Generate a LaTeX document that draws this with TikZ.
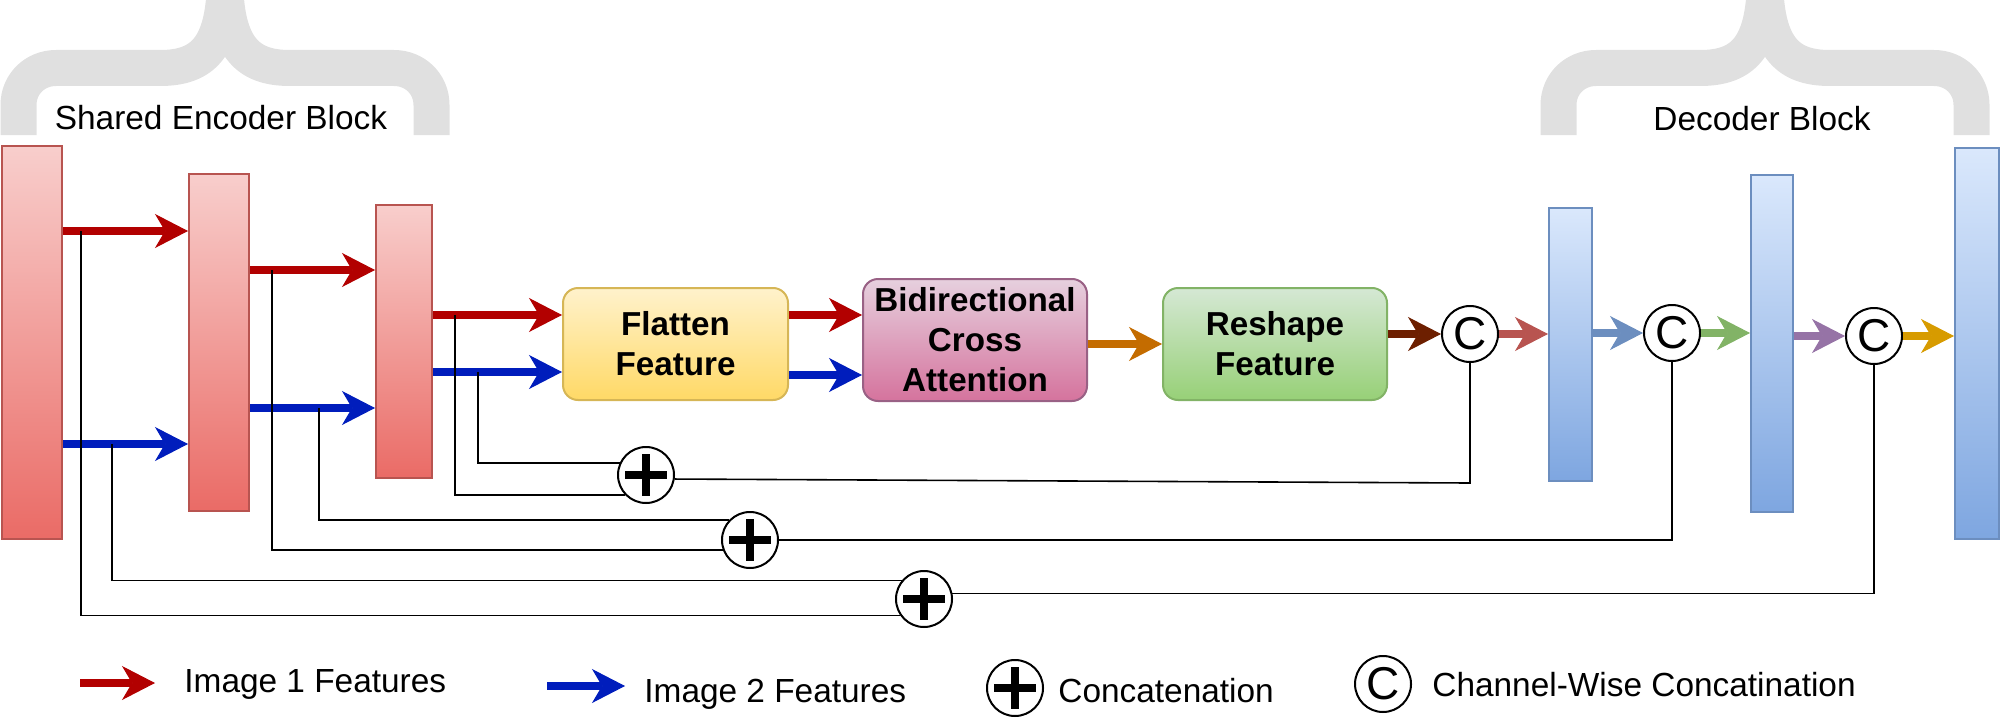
\documentclass[tikz,border=0pt]{standalone}
\usepackage{fontspec}
\setmainfont{Liberation Sans}
\usetikzlibrary{arrows.meta}
\definecolor{encT}{HTML}{F8CECC}
\definecolor{encB}{HTML}{EA6B66}
\definecolor{encD}{HTML}{B85450}
\definecolor{decT}{HTML}{DAE8FC}
\definecolor{decB}{HTML}{7EA6E0}
\definecolor{decD}{HTML}{6C8EBF}
\definecolor{flT}{HTML}{FFF2CC}
\definecolor{flB}{HTML}{FFD966}
\definecolor{flD}{HTML}{D6B656}
\definecolor{baT}{HTML}{E6D0DE}
\definecolor{baB}{HTML}{D5739D}
\definecolor{baD}{HTML}{996185}
\definecolor{rsT}{HTML}{D5E8D4}
\definecolor{rsB}{HTML}{97D077}
\definecolor{rsD}{HTML}{82B366}
\definecolor{redF}{HTML}{B20000}
\definecolor{blueF}{HTML}{001DBC}
\definecolor{orA}{HTML}{C46C00}
\definecolor{brA}{HTML}{6D1F00}
\definecolor{rdA}{HTML}{B85450}
\definecolor{blA}{HTML}{6C8EBF}
\definecolor{grA}{HTML}{82B366}
\definecolor{puA}{HTML}{9673A6}
\definecolor{goA}{HTML}{D79B00}
\definecolor{braceC}{HTML}{E0E0E0}
\newcommand{\mybracepath}{%
  \draw[bracestroke] (18.5,135) -- (18.5,105) .. controls (18.5,84) and (35,68) .. (56,68) -- (160,68) .. controls (205,68) and (225,45) .. (225,-25);
  \draw[bracestroke] (431.5,135) -- (431.5,105) .. controls (431.5,84) and (415,68) .. (394,68) -- (290,68) .. controls (245,68) and (225,45) .. (225,-25);
}
\begin{document}
\begin{tikzpicture}[x=0.5pt,y=-0.5pt,
  blk/.style={draw, line width=1pt, inner sep=0pt, anchor=north west},
  enc/.style={blk, top color=encT, bottom color=encB, draw=encD},
  dec/.style={blk, top color=decT, bottom color=decB, draw=decD},
  box/.style={draw, line width=1pt, rounded corners=7.5pt, inner sep=0pt, anchor=north west, align=center, font=\fontsize{16.6}{20}\selectfont\bfseries, minimum height=56pt, minimum width=112.5pt},
  farrow/.style={line width=3.6pt, -{Stealth[length=16.5pt,width=17pt,inset=5pt,line width=0.5pt]}},
  skip/.style={line width=0.8pt, black},
  bracestroke/.style={line width=18pt, draw=braceC, line join=round},
  plusnode/.style={circle, draw, line width=1pt, fill=white, minimum size=28pt, inner sep=0pt,
    path picture={\draw[line width=4pt] (path picture bounding box.center) +(-21,0) -- +(21,0) +(0,-21) -- +(0,21);}},
  cnode/.style={circle, draw, line width=1pt, fill=white, minimum size=28pt, inner sep=0pt, font=\fontsize{23}{23}\selectfont},
  lbl/.style={font=\fontsize{16.7}{20}\selectfont, inner sep=0pt}
]
\useasboundingbox (0,0) rectangle (2000,717);
\clip (0,0) rectangle (2000,717);

% braces
\mybracepath
\begin{scope}[shift={(1540,0)}]
\mybracepath
\end{scope}
\node[lbl, anchor=base] (encL) at (221,129) {Shared Encoder Block};
\node[lbl, anchor=base] (decL) at (1762,130) {Decoder Block};

% encoder blocks
\node[enc, minimum width=30pt, minimum height=196.5pt] (E1) at (1,145) {};
\node[enc, minimum width=30pt, minimum height=168.5pt] (E2) at (188,173) {};
\node[enc, minimum width=28pt, minimum height=136.5pt] (E3) at (375,204) {};
% decoder blocks
\node[dec, minimum width=21.5pt, minimum height=136.5pt] (D1) at (1548,207) {};
\node[dec, minimum width=21pt, minimum height=168.5pt] (D2) at (1750,174) {};
\node[dec, minimum width=22pt, minimum height=195.5pt] (D3) at (1954,147) {};

% boxes
\node[box, top color=flT, bottom color=flB, draw=flD] (FL) at (562,287) {Flatten\\Feature};
\node[box, top color=baT, bottom color=baB, draw=baD, minimum width=112pt, minimum height=61pt] (BA) at (862,278) {Bidirectional\\Cross\\Attention};
\node[box, top color=rsT, bottom color=rsB, draw=rsD, minimum width=112pt] (RS) at (1162,287) {Reshape\\Feature};

% tap coordinates
\coordinate (a1) at (81,231);
\coordinate (b1) at (112,444);
\coordinate (a2) at (272,270);
\coordinate (b2) at (319,408);
\coordinate (a3) at (455,315);
\coordinate (b3) at (478,372);
\coordinate (fr) at (820,315);
\coordinate (fb) at (820,375);

% encoder arrows
\draw[farrow, redF] (E1.east |- a1) -- (E2.west |- a1);
\draw[farrow, blueF] (E1.east |- b1) -- (E2.west |- b1);
\draw[farrow, redF] (E2.east |- a2) -- (E3.west |- a2);
\draw[farrow, blueF] (E2.east |- b2) -- (E3.west |- b2);
\draw[farrow, redF] (E3.east |- a3) -- (FL.west |- a3);
\draw[farrow, blueF] (E3.east |- b3) -- (FL.west |- b3);
\draw[farrow, redF] (FL.east |- fr) -- (BA.west |- fr);
\draw[farrow, blueF] (FL.east |- fb) -- (BA.west |- fb);

% concat nodes
\node[plusnode] (p1) at (646,475) {};
\node[plusnode] (p2) at (750,540) {};
\node[plusnode] (p3) at (924,599) {};
\node[cnode] (c1) at (1470,334) {C};
\node[cnode] (c2) at (1672,333) {C};
\node[cnode] (c3) at (1874,336) {C};

% skip connections
\draw[skip] (a3) |- (p1.223);
\draw[skip] (b3) |- (p1.155);
\draw[skip] (a2) |- (p2.200);
\draw[skip] (b2) |- (p2.137);
\draw[skip] (a1) |- (p3.215);
\draw[skip] (b1) |- (p3.140);
\coordinate (k1) at (1470,483);
\draw[skip] (p1.-8) -- (k1) -- (c1.south);
\draw[skip] (p2.east) -| (c2.south);
\draw[skip] (p3.11) -| (c3.south);

% decoder path arrows
\draw[farrow, orA] (BA.east |- RS.west) -- (RS.west);
\draw[farrow, brA] (RS.east |- c1) -- (c1);
\draw[farrow, rdA] (c1) -- (D1.west |- c1);
\draw[farrow, blA] (D1.east |- c2) -- (c2);
\draw[farrow, grA] (c2) -- (D2.west |- c2);
\draw[farrow, puA] (D2.east |- c3) -- (c3);
\draw[farrow, goA] (c3) -- (D3.west |- c3);

% legend
\coordinate (l1) at (80,683);
\coordinate (l1e) at (155,683);
\coordinate (l2) at (547,686);
\coordinate (l2e) at (625,686);
\draw[farrow, redF] (l1) -- (l1e);
\node[lbl, anchor=base west] (t1) at (184,692) {Image 1 Features};
\draw[farrow, blueF] (l2) -- (l2e);
\node[lbl, anchor=base west] (t2) at (644,702) {Image 2 Features};
\node[plusnode] (lp) at (1015,688) {};
\node[lbl, anchor=base west] (t3) at (1058,702) {Concatenation};
\node[cnode] (lc) at (1383,684) {C};
\node[lbl, anchor=base west] (t4) at (1432,696) {Channel-Wise Concatination};
\end{tikzpicture}
\end{document}
